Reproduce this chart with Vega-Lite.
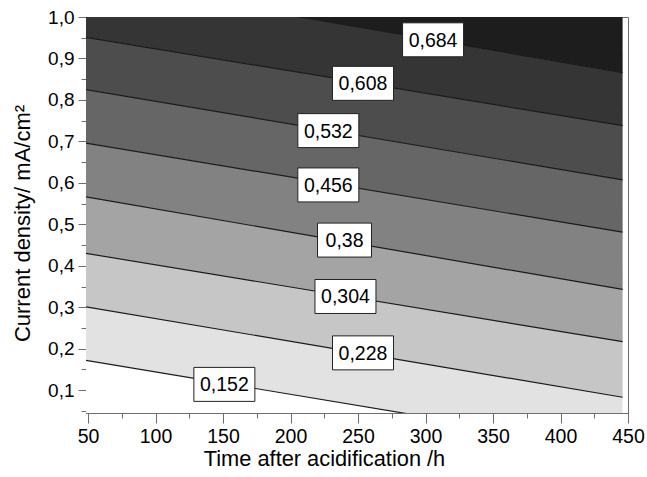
{
  "$schema": "https://vega.github.io/schema/vega-lite/v6.json",
  "width": 542,
  "height": 396,
  "autosize": "none",
  "padding": {"left": 86, "top": 17, "right": 19, "bottom": 64},
  "background": "white",
  "config": {
    "view": {"stroke": "#6e6e6e", "strokeWidth": 1},
    "font": "Liberation Sans"
  },
  "datasets": {
    "bands": [
      {"band": "b0", "time": 48.5, "lo": -0.2, "hi": 0.172},
      {"band": "b0", "time": 446, "lo": -0.2, "hi": -0.043},
      {"band": "b1", "time": 48.5, "lo": 0.172, "hi": 0.301},
      {"band": "b1", "time": 446, "lo": -0.043, "hi": 0.083},
      {"band": "b2", "time": 48.5, "lo": 0.301, "hi": 0.430},
      {"band": "b2", "time": 446, "lo": 0.083, "hi": 0.217},
      {"band": "b3", "time": 48.5, "lo": 0.430, "hi": 0.566},
      {"band": "b3", "time": 446, "lo": 0.217, "hi": 0.343},
      {"band": "b4", "time": 48.5, "lo": 0.566, "hi": 0.696},
      {"band": "b4", "time": 446, "lo": 0.343, "hi": 0.481},
      {"band": "b5", "time": 48.5, "lo": 0.696, "hi": 0.825},
      {"band": "b5", "time": 446, "lo": 0.481, "hi": 0.607},
      {"band": "b6", "time": 48.5, "lo": 0.825, "hi": 0.951},
      {"band": "b6", "time": 446, "lo": 0.607, "hi": 0.738},
      {"band": "b7", "time": 48.5, "lo": 0.951, "hi": 1.089},
      {"band": "b7", "time": 446, "lo": 0.738, "hi": 0.866},
      {"band": "b8", "time": 48.5, "lo": 1.089, "hi": 1.3},
      {"band": "b8", "time": 446, "lo": 0.866, "hi": 1.3}
    ],
    "lines": [
      {"level": "0,152", "time": 48.5, "value": 0.172},
      {"level": "0,152", "time": 446, "value": -0.043},
      {"level": "0,228", "time": 48.5, "value": 0.301},
      {"level": "0,228", "time": 446, "value": 0.083},
      {"level": "0,304", "time": 48.5, "value": 0.430},
      {"level": "0,304", "time": 446, "value": 0.217},
      {"level": "0,38", "time": 48.5, "value": 0.566},
      {"level": "0,38", "time": 446, "value": 0.343},
      {"level": "0,456", "time": 48.5, "value": 0.696},
      {"level": "0,456", "time": 446, "value": 0.481},
      {"level": "0,532", "time": 48.5, "value": 0.825},
      {"level": "0,532", "time": 446, "value": 0.607},
      {"level": "0,608", "time": 48.5, "value": 0.951},
      {"level": "0,608", "time": 446, "value": 0.738},
      {"level": "0,684", "time": 48.5, "value": 1.089},
      {"level": "0,684", "time": 446, "value": 0.866}
    ],
    "labels": [
      {"label": "0,684", "time": 305.6, "value": 0.945},
      {"label": "0,608", "time": 253.7, "value": 0.840},
      {"label": "0,532", "time": 228, "value": 0.726},
      {"label": "0,456", "time": 228, "value": 0.595},
      {"label": "0,38", "time": 240, "value": 0.462},
      {"label": "0,304", "time": 240.7, "value": 0.326},
      {"label": "0,228", "time": 253.7, "value": 0.190},
      {"label": "0,152", "time": 151, "value": 0.114}
    ]
  },
  "encoding": {
    "x": {
      "field": "time",
      "type": "quantitative",
      "scale": {"domain": [48.5, 450], "nice": false, "zero": false},
      "axis": {
        "values": [50, 75, 100, 125, 150, 175, 200, 225, 250, 275, 300, 325, 350, 375, 400, 425, 450],
        "format": "d",
        "labelExpr": "datum.value % 50 == 0 ? datum.label : ''",
        "tickSize": {"condition": {"test": "datum.value % 50 == 0", "value": 10}, "value": 5},
        "grid": false,
        "labelFlush": false,
        "labelOverlap": false,
        "domainColor": "#6e6e6e",
        "tickColor": "#6e6e6e",
        "labelColor": "#000000",
        "labelFontSize": 19.5,
        "labelPadding": 4,
        "title": "Time after acidification /h",
        "titleFontSize": 21.8,
        "titleFontWeight": "normal",
        "titleColor": "#000000",
        "titlePadding": 3,
        "titleX": 238,
        "titleAnchor": "middle"
      }
    },
    "y": {
      "type": "quantitative",
      "scale": {"domain": [0.045, 1.0], "nice": false, "zero": false},
      "axis": {
        "values": [0.05, 0.1, 0.15, 0.2, 0.25, 0.3, 0.35, 0.4, 0.45, 0.5, 0.55, 0.6, 0.65, 0.7, 0.75, 0.8, 0.85, 0.9, 0.95, 1.0],
        "labelExpr": "round(datum.value * 20) % 2 == 0 ? replace(format(datum.value, '.1f'), '.', ',') : ''",
        "tickSize": {"condition": {"test": "round(datum.value * 20) % 2 == 0", "value": 8}, "value": 5},
        "grid": false,
        "labelFlush": false,
        "labelOverlap": false,
        "domainColor": "#6e6e6e",
        "tickColor": "#6e6e6e",
        "labelColor": "#000000",
        "labelFontSize": 19,
        "labelPadding": 4,
        "title": "Current density/ mA/cm²",
        "titleFontSize": 22,
        "titleFontWeight": "normal",
        "titleColor": "#000000",
        "titlePadding": 13,
        "titleY": 206
      }
    }
  },
  "layer": [
    {
      "data": {"name": "bands"},
      "mark": {"type": "area", "clip": true, "opacity": 1},
      "encoding": {
        "y": {"field": "lo", "type": "quantitative", "stack": null},
        "y2": {"field": "hi"},
        "color": {
          "field": "band",
          "type": "nominal",
          "scale": {
            "domain": ["b0", "b1", "b2", "b3", "b4", "b5", "b6", "b7", "b8"],
            "range": ["#ffffff", "#e2e2e2", "#c6c6c6", "#a4a4a4", "#828282", "#666666", "#4d4d4d", "#353535", "#1d1d1d"]
          },
          "legend": null
        }
      }
    },
    {
      "data": {"name": "lines"},
      "mark": {"type": "line", "clip": true, "color": "#1a1a1a", "strokeWidth": 1.2},
      "encoding": {
        "y": {"field": "value", "type": "quantitative"},
        "detail": {"field": "level", "type": "nominal"}
      }
    },
    {
      "data": {"name": "labels"},
      "mark": {"type": "point", "filled": true, "fill": "#ffffff", "stroke": "#222222", "strokeWidth": 1, "opacity": 1, "size": 3721},
      "encoding": {
        "y": {"field": "value", "type": "quantitative"},
        "shape": {
          "condition": {"test": "datum.label == '0,38'", "value": "M-0.885,-0.557L0.885,-0.557L0.885,0.557L-0.885,0.557Z"},
          "value": "M-1,-0.557L1,-0.557L1,0.557L-1,0.557Z"
        }
      }
    },
    {
      "data": {"name": "labels"},
      "mark": {"type": "text", "fontSize": 19.5, "baseline": "middle", "align": "center", "color": "#000000", "dy": 1},
      "encoding": {
        "y": {"field": "value", "type": "quantitative"},
        "text": {"field": "label", "type": "nominal"}
      }
    }
  ]
}
